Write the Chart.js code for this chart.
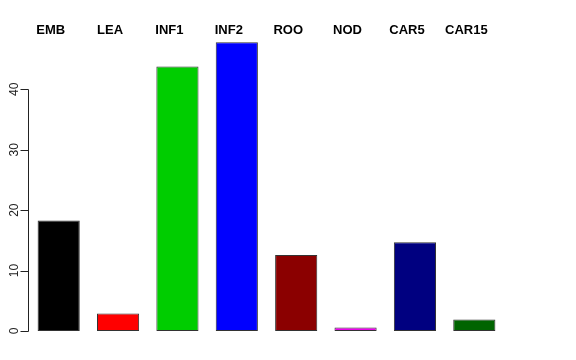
<!DOCTYPE html>
<html>
<head>
<meta charset="utf-8">
<script src="https://cdn.jsdelivr.net/npm/chart.js@4"></script>
<style>
  html, body { margin: 0; padding: 0; background: #fff; }
  #wrap { width: 576px; height: 360px; position: relative; }
</style>
</head>
<body>
<div id="wrap"><canvas id="c"></canvas></div>
<script>
const categories = ["EMB", "LEA", "INF1", "INF2", "ROO", "NOD", "CAR5", "CAR15"];
const values = [18.3, 2.9, 43.8, 47.8, 12.6, 0.6, 14.7, 1.9];
const barColors = ["#000000", "#ff0000", "#00cd00", "#0000ff", "#8b0000", "#ee00ee", "#000080", "#006400"];
const yTicks = [0, 10, 20, 30, 40];

// R-style left axis plus category labels above the bars
const rAxes = {
  id: "rAxes",
  afterDraw(chart) {
    const ctx = chart.ctx;
    const y = chart.scales.y;
    const x = chart.scales.x;
    const axisX = chart.chartArea.left;
    ctx.save();
    ctx.strokeStyle = "#222";
    ctx.lineWidth = 1;
    ctx.beginPath();
    ctx.moveTo(axisX - 0.5, Math.round(y.getPixelForValue(yTicks[0])) + 0.5);
    ctx.lineTo(axisX - 0.5, Math.round(y.getPixelForValue(yTicks[yTicks.length - 1])) + 0.5);
    yTicks.forEach((t) => {
      const py = Math.round(y.getPixelForValue(t)) + 0.5;
      ctx.moveTo(axisX - 0.5, py);
      ctx.lineTo(axisX - 8.5, py);
    });
    ctx.stroke();

    ctx.fillStyle = "#222";
    ctx.font = "12px 'Liberation Sans', Arial, sans-serif";
    ctx.textAlign = "center";
    ctx.textBaseline = "middle";
    yTicks.forEach((t) => {
      ctx.save();
      ctx.translate(15, y.getPixelForValue(t));
      ctx.rotate(-Math.PI / 2);
      ctx.fillText(String(t), 0, 0);
      ctx.restore();
    });

    ctx.fillStyle = "#000";
    ctx.font = "bold 13px 'Liberation Sans', Arial, sans-serif";
    categories.forEach((c, i) => {
      ctx.fillText(c, x.getPixelForValue(i) - 8, 30);
    });
    ctx.restore();
  },
};

new Chart(document.getElementById("c"), {
  type: "bar",
  data: {
    labels: categories,
    datasets: [{
      data: values,
      backgroundColor: barColors,
      borderColor: "#333",
      borderWidth: 1,
      borderSkipped: false,
      categoryPercentage: 1,
      barPercentage: 0.71,
    }],
  },
  options: {
    responsive: true,
    maintainAspectRatio: false,
    animation: false,
    layout: { padding: { left: 29, right: 72, top: 41, bottom: 29 } },
    plugins: { legend: { display: false }, tooltip: { enabled: false } },
    scales: {
      x: { display: false },
      y: { display: false, min: 0, max: 48 },
    },
  },
  plugins: [rAxes],
});
</script>
</body>
</html>
